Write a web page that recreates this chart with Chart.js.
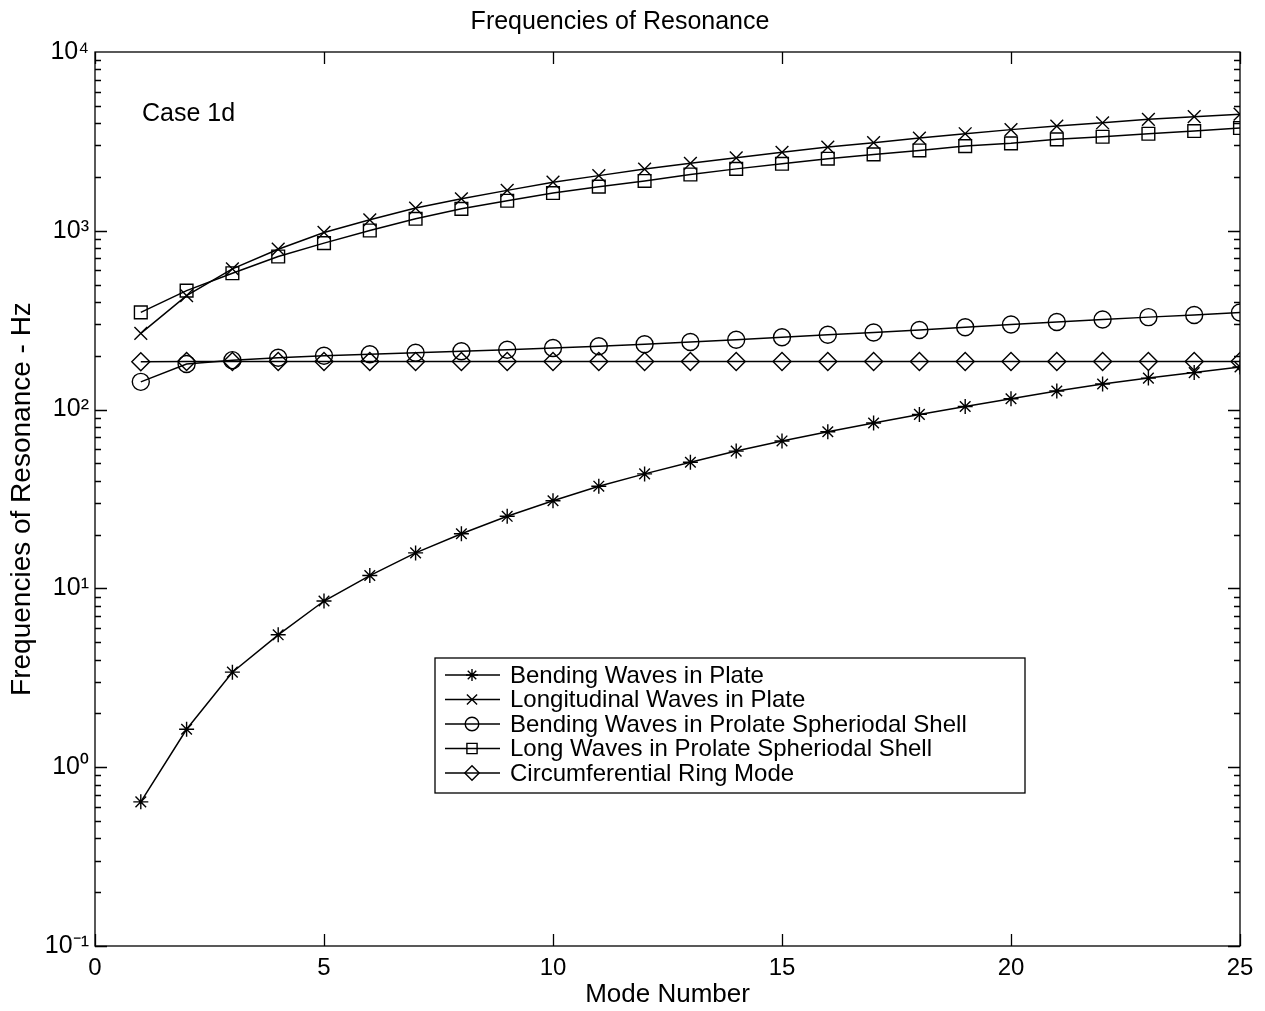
<!DOCTYPE html>
<html>
<head>
<meta charset="utf-8">
<script src="https://cdn.jsdelivr.net/npm/chart.js@4/dist/chart.umd.min.js"></script>
<style>
  html, body { margin: 0; padding: 0; background: #fff; }
  #wrap { width: 1265px; height: 1011px; }
</style>
</head>
<body>
<div id="wrap"><canvas id="c" width="1265" height="1011"></canvas></div>
<script>
// ---- data ----
const modes = [1,2,3,4,5,6,7,8,9,10,11,12,13,14,15,16,17,18,19,20,21,22,23,24,25];
const bendingPlate = [0.64,1.63,3.4,5.5,8.5,11.8,15.8,20.2,25.3,30.9,37.3,43.7,50.8,58.6,66.8,75.2,84.2,94,104,115,127,139,150,161,173];
const longitudinalPlate = [267,434,612,789,979,1152,1340,1511,1683,1870,2035,2215,2385,2560,2750,2940,3110,3300,3490,3680,3850,4020,4200,4350,4490];
const bendingShell = [143,180,189,195,200,204,208,212,216,221,226,232,239,246,254,262,270,279,289,299,309,319,329,338,349];
const longShell = [350,463,579,718,853,1004,1167,1327,1472,1626,1765,1900,2064,2220,2370,2531,2675,2814,2977,3083,3246,3357,3490,3613,3758];
const ringMode = [185,186,186,186,186,186,186,186,186,186,186,186,186,186,186,186,186,186,186,186,186,186,186,186,186];

const seriesNames = [
  'Bending Waves in Plate',
  'Longitudinal Waves in Plate',
  'Bending Waves in Prolate Spheriodal Shell',
  'Long Waves in Prolate Spheriodal Shell',
  'Circumferential Ring Mode'
];
const xTicks = [0,5,10,15,20,25];
const yTicks = [0.1,1,10,100,1000,10000];
const yTickLabels = ['10\u207B\u00B9','10\u2070','10\u00B9','10\u00B2','10\u00B3','10\u2074'];
const titleText = 'Frequencies of Resonance';
const xTitle = 'Mode Number';
const yTitle = 'Frequencies of Resonance - Hz';
const caseLabel = 'Case 1d';

// ---- chart ----
const FONT = "'Liberation Sans', Arial, Helvetica, sans-serif";
const seriesData = [bendingPlate, longitudinalPlate, bendingShell, longShell, ringMode];
const markers = [
  {style: 'star', r: 7.5},
  {style: 'crossRot', r: 9},
  {style: 'circle', r: 8.5},
  {style: 'rect', r: 9},
  {style: 'rectRot', r: 9}
];

const datasets = seriesData.map((arr, i) => ({
  label: seriesNames[i],
  data: modes.map((m, j) => ({x: m, y: arr[j]})),
  borderColor: '#000',
  borderWidth: 1.5,
  pointStyle: markers[i].style,
  pointRadius: markers[i].r,
  pointBorderColor: '#000',
  pointBorderWidth: 1.4,
  pointBackgroundColor: 'rgba(0,0,0,0)',
  fill: false,
  tension: 0
}));

const framePlugin = {
  id: 'frame',
  afterDatasetsDraw(chart) {
    const {ctx, chartArea: ca, scales: {x, y}} = chart;
    ctx.save();
    ctx.strokeStyle = '#000';
    ctx.lineWidth = 1.3;
    ctx.strokeRect(ca.left, ca.top, ca.right - ca.left, ca.bottom - ca.top);
    ctx.beginPath();
    const MAJ = 12, MIN = 6;
    xTicks.forEach(v => {
      const px = Math.round(x.getPixelForValue(v)) + 0.5;
      ctx.moveTo(px, ca.bottom); ctx.lineTo(px, ca.bottom - MAJ);
      ctx.moveTo(px, ca.top); ctx.lineTo(px, ca.top + MAJ);
    });
    for (let d = -1; d <= 3; d++) {
      for (let k = 1; k <= 9; k++) {
        const v = k * Math.pow(10, d);
        const py = Math.round(y.getPixelForValue(v)) + 0.5;
        const len = k === 1 ? MAJ : MIN;
        ctx.moveTo(ca.left, py); ctx.lineTo(ca.left + len, py);
        ctx.moveTo(ca.right, py); ctx.lineTo(ca.right - len, py);
      }
    }
    ctx.stroke();

    // "Case 1d" annotation
    ctx.fillStyle = '#000';
    ctx.font = '25px ' + FONT;
    ctx.textBaseline = 'middle';
    ctx.textAlign = 'left';
    ctx.fillText(caseLabel, ca.left + 47, ca.top + 62);

    // legend box
    const lx = ca.left + 340, ly = ca.top + 606, lw = 590, lh = 135;
    ctx.fillStyle = '#fff';
    ctx.fillRect(lx, ly, lw, lh);
    ctx.lineWidth = 1.3;
    ctx.strokeStyle = '#000';
    ctx.strokeRect(lx, ly, lw, lh);
    ctx.font = '24px ' + FONT;
    chart.data.datasets.forEach((ds, i) => {
      const cy = ly + 17 + i * 24.5;
      ctx.beginPath();
      ctx.lineWidth = 1.5;
      ctx.strokeStyle = '#000';
      ctx.moveTo(lx + 10, cy); ctx.lineTo(lx + 65, cy);
      ctx.stroke();
      ctx.fillStyle = 'rgba(0,0,0,0)';
      ctx.lineWidth = 1.4;
      Chart.helpers.drawPoint(ctx, {
        pointStyle: ds.pointStyle, radius: ds.pointRadius * 0.8,
        borderWidth: 1.4, rotation: 0
      }, lx + 37, cy);
      ctx.fillStyle = '#000';
      ctx.fillText(ds.label, lx + 75, cy + 1);
    });
    ctx.restore();
  }
};

new Chart(document.getElementById('c'), {
  type: 'line',
  data: { datasets },
  options: {
    responsive: false,
    animation: false,
    events: [],
    layout: { padding: { left: 0, right: 25, top: 0, bottom: 0 } },
    plugins: {
      legend: { display: false },
      tooltip: { enabled: false },
      title: {
        display: true,
        text: titleText,
        color: '#000',
        font: { family: FONT, size: 25, weight: 'normal' },
        padding: { top: 7, bottom: 15 }
      }
    },
    scales: {
      x: {
        type: 'linear',
        min: 0, max: 25,
        afterBuildTicks: s => { s.ticks = xTicks.map(v => ({value: v})); },
        ticks: { color: '#000', font: { family: FONT, size: 24 }, padding: 8, maxRotation: 0 },
        grid: { display: false, drawTicks: false },
        border: { display: false },
        title: { display: true, text: xTitle, color: '#000', font: { family: FONT, size: 26 }, padding: { top: 0, bottom: 1 } },
        afterFit: s => { s.height = 65; }
      },
      y: {
        type: 'logarithmic',
        min: 0.1, max: 10000,
        afterBuildTicks: s => { s.ticks = yTicks.map(v => ({value: v, major: true})); },
        ticks: {
          color: '#000', font: { family: FONT, size: 25 }, padding: 6,
          callback: (v) => { const i = yTicks.findIndex(t => Math.abs(t - v) / t < 1e-6); return i >= 0 ? yTickLabels[i] : ''; }
        },
        grid: { display: false, drawTicks: false },
        border: { display: false },
        title: { display: true, text: yTitle, color: '#000', font: { family: FONT, size: 28 }, padding: { top: 5, bottom: 0 } },
        afterFit: s => { s.width = 95; }
      }
    }
  },
  plugins: [framePlugin]
});
</script>
</body>
</html>
